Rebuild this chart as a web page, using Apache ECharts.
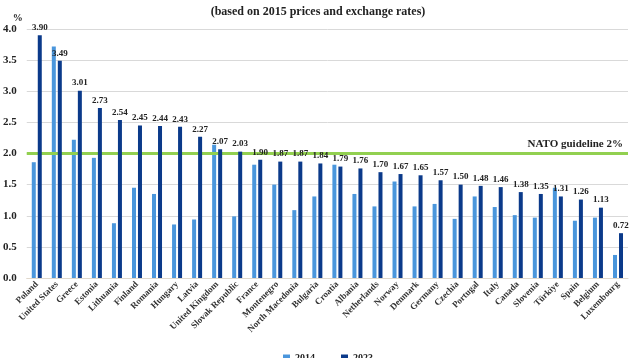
<!DOCTYPE html>
<html><head><meta charset="utf-8">
<script src="https://cdn.jsdelivr.net/npm/echarts@6/dist/echarts.min.js"></script>
<style>html,body{margin:0;padding:0;background:#fff}#c{width:636px;height:358px}</style>
</head><body><div id="c"></div>
<script>
const categories = ["Poland","United States","Greece","Estonia","Lithuania","Finland","Romania","Hungary","Latvia","United Kingdom","Slovak Republic","France","Montenegro","North Macedonia","Bulgaria","Croatia","Albania","Netherlands","Norway","Denmark","Germany","Czechia","Portugal","Italy","Canada","Slovenia","Türkiye","Spain","Belgium","Luxembourg"];
const values2014 = [1.86,3.72,2.22,1.93,0.88,1.45,1.35,0.86,0.94,2.14,0.99,1.82,1.50,1.09,1.31,1.82,1.35,1.15,1.55,1.15,1.19,0.95,1.31,1.14,1.01,0.97,1.45,0.92,0.97,0.37];
const values2023 = [3.90,3.49,3.01,2.73,2.54,2.45,2.44,2.43,2.27,2.07,2.03,1.90,1.87,1.87,1.84,1.79,1.76,1.70,1.67,1.65,1.57,1.50,1.48,1.46,1.38,1.35,1.31,1.26,1.13,0.72];
const seriesNames = ["2014","2023"];
const guideline = 2.0;
const guidelineLabel = "NATO guideline 2%";
const yTicks = [0,0.5,1.0,1.5,2.0,2.5,3.0,3.5,4.0];
const subtitle = "(based on 2015 prices and exchange rates)";

const serif = '"Liberation Serif", "DejaVu Serif", serif';
const chart = echarts.init(document.getElementById('c'));
chart.setOption({
  animation:false,
  title:{text:subtitle,left:'center',top:1,textStyle:{fontFamily:serif,fontWeight:'bold',fontSize:12,color:'#222'}},
  grid:{left:23,right:8,top:29,bottom:80},
  legend:{data:seriesNames,bottom:-10,left:278,itemWidth:7,itemHeight:7,itemGap:26,icon:'rect',
    textStyle:{fontFamily:serif,fontWeight:'bold',fontSize:10,color:'#222'}},
  xAxis:{type:'category',data:categories,
    axisLine:{lineStyle:{color:'#e0d8cc'}},axisTick:{show:false},
    axisLabel:{interval:0,rotate:45,fontFamily:serif,fontWeight:'bold',fontSize:9,color:'#333',margin:5}},
  yAxis:{type:'value',min:yTicks[0],max:yTicks[yTicks.length-1],interval:0.5,
    name:'%',nameGap:6,nameLocation:'end',nameTextStyle:{fontFamily:serif,fontWeight:'bold',fontSize:10,color:'#222',align:'right',padding:[0,4,0,0]},
    axisLabel:{formatter:v=>v.toFixed(1),fontFamily:serif,fontWeight:'bold',fontSize:11,color:'#222',margin:10},
    splitLine:{lineStyle:{color:'#d9d9d9',width:1}},axisLine:{show:false},axisTick:{show:false}},
  series:[
    {name:seriesNames[0],type:'bar',data:values2014,barWidth:4,barGap:'50%',itemStyle:{color:'#4a96dc'},
      markLine:{symbol:'none',silent:true,data:[{yAxis:guideline}],
        lineStyle:{color:'#92d050',width:3,type:'solid'},
        label:{show:true,position:'insideEndTop',formatter:guidelineLabel,fontFamily:serif,fontWeight:'bold',fontSize:11,color:'#222',distance:[5,4]}}},
    {name:seriesNames[1],type:'bar',z:8,data:values2023,barWidth:4,itemStyle:{color:'#0b3a8a'},
      label:{show:true,position:'top',distance:3,formatter:p=>p.value.toFixed(2),fontFamily:serif,fontWeight:'bold',fontSize:9,color:'#222'}}
  ]
});
</script></body></html>
